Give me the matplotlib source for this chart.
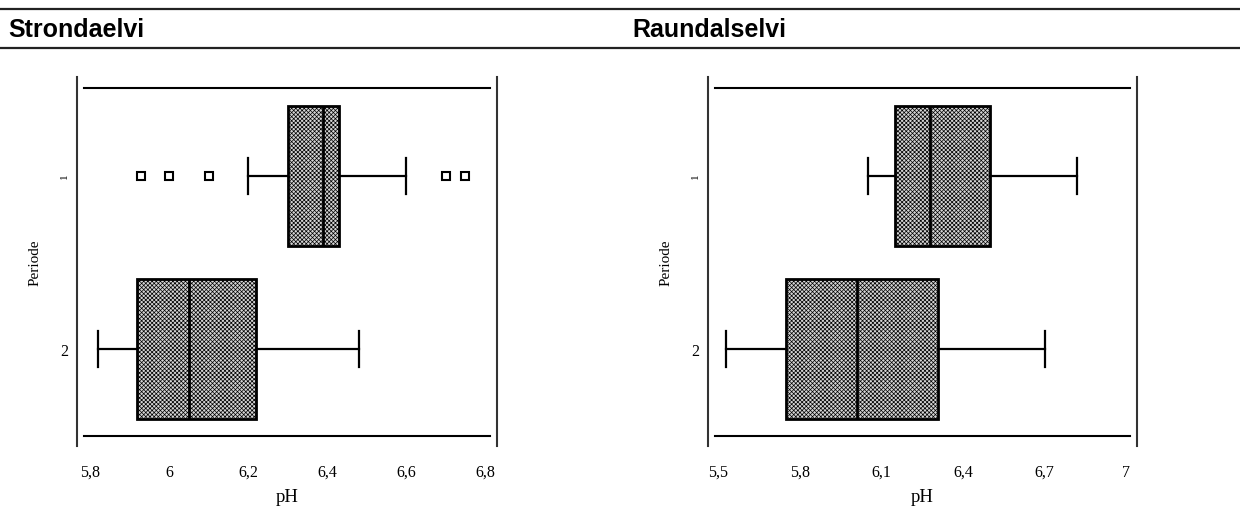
import matplotlib.pyplot as plt
from matplotlib.lines import Line2D

# values (pH)
periods = [1, 2]
period_labels = ['1', '2']

strond_q1 = [6.30, 5.92]
strond_med = [6.39, 6.05]
strond_q3 = [6.43, 6.22]
strond_lo = [6.20, 5.82]
strond_hi = [6.60, 6.48]
strond_fliers = [[5.93, 6.00, 6.10, 6.70, 6.75], []]
strond_ticks = [5.8, 6.0, 6.2, 6.4, 6.6, 6.8]
strond_ticklabels = ['5,8', '6', '6,2', '6,4', '6,6', '6,8']

raund_q1 = [6.15, 5.75]
raund_med = [6.28, 6.01]
raund_q3 = [6.50, 6.31]
raund_lo = [6.05, 5.53]
raund_hi = [6.82, 6.70]
raund_fliers = [[], []]
raund_ticks = [5.5, 5.8, 6.1, 6.4, 6.7, 7.0]
raund_ticklabels = ['5,5', '5,8', '6,1', '6,4', '6,7', '7']

plt.rcParams['hatch.linewidth'] = 0.5
plt.rcParams['hatch.color'] = '#5a5a5a'

serif = ['Liberation Serif', 'DejaVu Serif']


def make_stats(q1, med, q3, lo, hi, fliers):
    out = []
    for i in range(len(q1)):
        out.append(dict(q1=q1[i], med=med[i], q3=q3[i], whislo=lo[i],
                        whishi=hi[i], fliers=fliers[i]))
    return out


def draw_panel(fig, rect, stats, xlim, ticks, ticklabels, hx):
    ax = fig.add_axes(rect)
    ax.bxp(stats, positions=periods, widths=0.81, orientation='horizontal',
           patch_artist=True, showcaps=True,
           boxprops=dict(facecolor='#d4d4d4', edgecolor='black', linewidth=2, hatch='xxxxxxxx'),
           medianprops=dict(color='black', linewidth=2),
           whiskerprops=dict(color='black', linewidth=1.6),
           capprops=dict(color='black', linewidth=1.6),
           capwidths=0.21,
           flierprops=dict(marker='s', markersize=6, markerfacecolor='white',
                           markeredgecolor='black', markeredgewidth=1.5))
    ax.set_xlim(*xlim)
    ax.set_ylim(2.561, 0.428)
    for s in ['top', 'bottom']:
        ax.spines[s].set_visible(False)
    for s in ['left', 'right']:
        ax.spines[s].set_color('#333333')
        ax.spines[s].set_linewidth(1.5)
    # inner frame lines
    ax.axhline(0.491, xmin=hx[0], xmax=hx[1], color='black', lw=1.5)
    ax.axhline(2.503, xmin=hx[0], xmax=hx[1], color='black', lw=1.5)
    ax.set_xticks(ticks)
    ax.set_xticklabels(ticklabels, family=serif, fontsize=11.5)
    ax.set_yticks(periods)
    ax.set_yticklabels(period_labels, family=serif, fontsize=11.5)
    ax.get_yticklabels()[0].set_rotation(90)
    ax.get_yticklabels()[0].set_fontsize(8)
    ax.tick_params(length=0, axis='x', pad=13)
    ax.tick_params(length=0, axis='y', pad=6)
    ax.set_xlabel('pH', family=serif, fontsize=13.5, labelpad=6)
    ax.set_ylabel('Periode', family=serif, fontsize=11, labelpad=13)
    return ax


fig = plt.figure(figsize=(12.4, 5.1), dpi=100)

draw_panel(fig, [77 / 1240, 63 / 510, 420 / 1240, 369 / 510],
           make_stats(strond_q1, strond_med, strond_q3, strond_lo, strond_hi, strond_fliers),
           (5.767, 6.830), strond_ticks, strond_ticklabels, (0.017, 0.983))
draw_panel(fig, [708 / 1240, 63 / 510, 429 / 1240, 369 / 510],
           make_stats(raund_q1, raund_med, raund_q3, raund_lo, raund_hi, raund_fliers),
           (5.463, 7.040), raund_ticks, raund_ticklabels, (0.016, 0.984))

# title band
for y in [1 - 10 / 510, 1 - 49 / 510]:
    fig.add_artist(Line2D([0, 1], [y, y], color='#222222', lw=1.6))
fig.text(8 / 1240, 1 - 30 / 510, 'Strondaelvi', family=['Liberation Sans', 'DejaVu Sans'],
         fontweight='bold', fontsize=18, va='center', ha='left')
fig.text(632 / 1240, 1 - 30 / 510, 'Raundalselvi', family=['Liberation Sans', 'DejaVu Sans'],
         fontweight='bold', fontsize=18, va='center', ha='left')

fig.savefig('out.png', dpi=100)
